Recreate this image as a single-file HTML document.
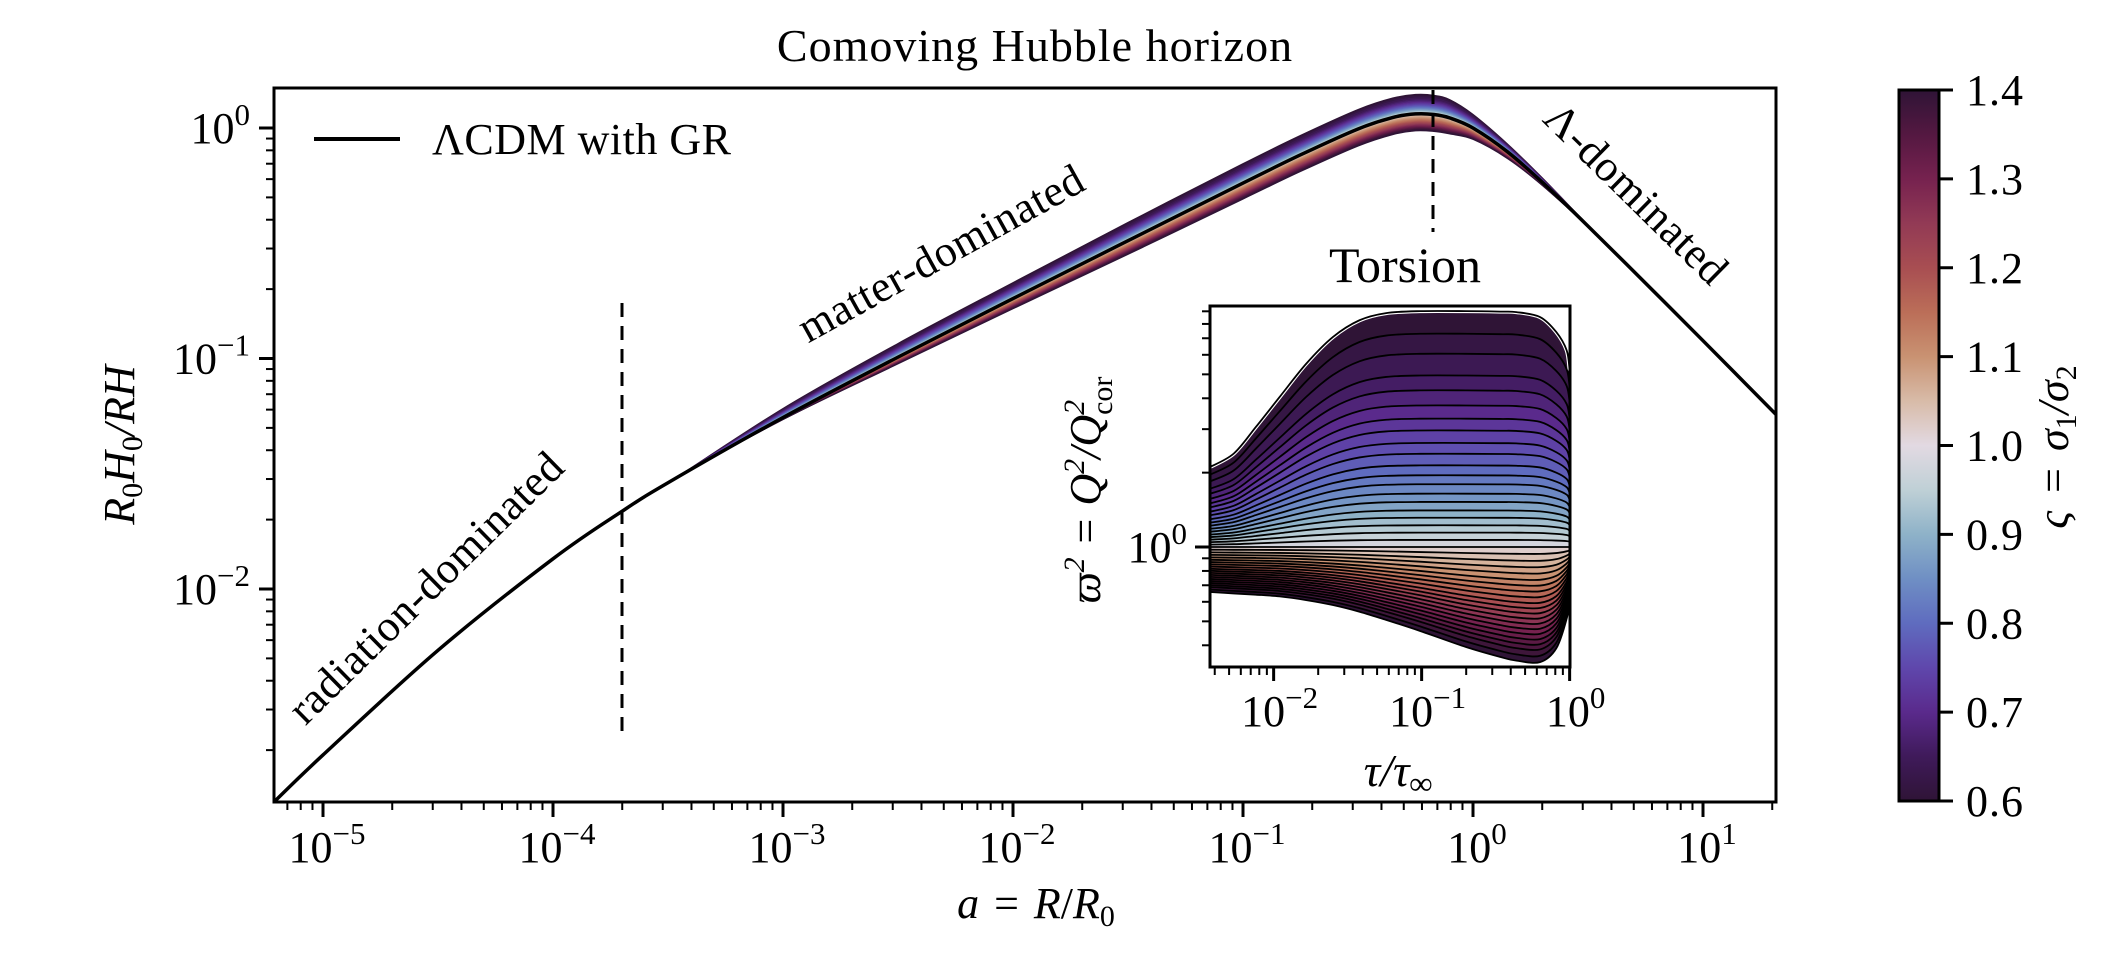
<!DOCTYPE html>
<html><head><meta charset="utf-8"><style>
html,body{margin:0;padding:0;background:#fff;}
svg{display:block;}
text{font-family:"Liberation Serif","DejaVu Serif",serif;fill:#000;}
</style></head><body>
<svg id="fig" width="2125" height="957" viewBox="0 0 2125 957" xmlns="http://www.w3.org/2000/svg">
<defs>
<clipPath id="mainClip"><rect x="274" y="88" width="1502" height="714"/></clipPath>
<clipPath id="insetClip"><rect x="1210" y="306" width="360" height="361"/></clipPath>
<linearGradient id="cbGrad" x1="0" y1="1" x2="0" y2="0"></linearGradient>
</defs>
<text x="1035" y="61" font-size="46" letter-spacing="1" text-anchor="middle">Comoving Hubble horizon</text>
<g id="mainBand" clip-path="url(#mainClip)"></g>
<g id="mainLine" clip-path="url(#mainClip)"></g>
<line x1="622" y1="303" x2="622" y2="735" stroke="#000" stroke-width="3" stroke-dasharray="14,9"/>
<line x1="1433" y1="90" x2="1433" y2="232" stroke="#000" stroke-width="3" stroke-dasharray="14,9"/>
<rect x="274" y="88" width="1502" height="714" fill="none" stroke="#000" stroke-width="3"/>
<g id="mainTicks"></g>
<g>
<line x1="314" y1="139" x2="400" y2="139" stroke="#000" stroke-width="4"/>
<text x="432" y="154" font-size="44" letter-spacing="0.5">ΛCDM with GR</text>
</g>
<text transform="translate(436,598) rotate(-44.5)" font-size="44" letter-spacing="0.5" text-anchor="middle">radiation-dominated</text>
<text transform="translate(948,266) rotate(-29)" font-size="44" letter-spacing="0.5" text-anchor="middle">matter-dominated</text>
<text transform="translate(1626,204) rotate(44.5)" font-size="44" letter-spacing="0.5" text-anchor="middle">Λ-dominated</text>
<text x="1405" y="282" font-size="50" text-anchor="middle">Torsion</text>
<rect x="1210" y="306" width="360" height="361" fill="#fff"/>
<g id="insetArea" clip-path="url(#insetClip)"></g>
<rect x="1210" y="306" width="360" height="361" fill="none" stroke="#000" stroke-width="3"/>
<g id="insetTicks"></g>
<text x="1398" y="786" font-size="46" font-style="italic" text-anchor="middle">τ/τ<tspan font-size="32" dy="8">∞</tspan></text>
<text transform="translate(1100,490) rotate(-90)" font-size="44" font-style="italic" text-anchor="middle">ϖ<tspan font-size="30" dy="-16">2</tspan><tspan dy="16"> = Q</tspan><tspan font-size="30" dy="-16">2</tspan><tspan dy="16">/Q</tspan><tspan font-size="30" dy="-16">2</tspan><tspan font-size="30" font-style="normal" dx="-15" dy="28">cor</tspan></text>
<text x="1036" y="918" font-size="44" text-anchor="middle" word-spacing="4"><tspan font-style="italic">a</tspan> = <tspan font-style="italic">R</tspan>/<tspan font-style="italic">R</tspan><tspan font-size="30" dy="8">0</tspan></text>
<text transform="translate(134,445) rotate(-90)" font-size="44" font-style="italic" text-anchor="middle">R<tspan font-size="30" font-style="normal" dy="8">0</tspan><tspan dy="-8">H</tspan><tspan font-size="30" font-style="normal" dy="8">0</tspan><tspan dy="-8">/RH</tspan></text>
<rect id="cbRect" x="1899" y="90" width="40" height="711" fill="url(#cbGrad)" stroke="#000" stroke-width="3"/>
<g id="cbTicks"></g>
<text transform="translate(2068,447) rotate(-90)" font-size="44" font-style="italic" text-anchor="middle" word-spacing="4">ς = σ<tspan font-size="30" font-style="normal" dy="8">1</tspan><tspan dy="-8">/σ</tspan><tspan font-size="30" font-style="normal" dy="8">2</tspan></text>
</svg>
<script>
// ---- main chart data (log10 a, log10 R0H0/RH) ----
const logA = [-5.213,-5.0,-4.5,-4.0,-3.7,-3.5,-3.0,-2.5,-2.0,-1.5,-1.0,-0.75,-0.5,-0.35,-0.25,-0.17,-0.1,0,0.15,0.3,0.5,0.75,1.0,1.317];
const logY = [-2.924,-2.720,-2.266,-1.869,-1.663,-1.539,-1.256,-0.994,-0.740,-0.489,-0.239,-0.1165,-0.0041,0.0454,0.0611,0.0585,0.0433,0,-0.1033,-0.234,-0.4255,-0.673,-0.9227,-1.2426];
const bandUp = [0,0,0,0,0,0,0.04,0.06,0.07,0.08,0.085,0.085,0.085,0.085,0.085,0.084,0.08,0.06,0.035,0.02,0.005,0,0,0];
const bandDown = [0,0,0,0,0,0,-0.01,-0.03,-0.045,-0.06,-0.07,-0.073,-0.075,-0.075,-0.074,-0.074,-0.07,-0.05,-0.03,-0.015,-0.004,0,0,0];
const sigmaUp = [0.60,0.62,0.64,0.66,0.68,0.70,0.72,0.74,0.76,0.78,0.80,0.82,0.84,0.86,0.88,0.90,0.92,0.94,0.96,0.98,1.00];
const fracUp = [1,0.904,0.819,0.727,0.664,0.600,0.544,0.494,0.441,0.395,0.346,0.304,0.266,0.226,0.191,0.155,0.124,0.092,0.061,0.030,0];
const sigmaDown = [1.02,1.04,1.06,1.08,1.10,1.12,1.14,1.16,1.18,1.20,1.22,1.24,1.26,1.28,1.30,1.32,1.34,1.36,1.38,1.40];
const fracDown = [0.06,0.12,0.175,0.23,0.285,0.335,0.385,0.435,0.485,0.53,0.575,0.62,0.665,0.71,0.755,0.80,0.845,0.89,0.945,1];
// ---- inset data (log10 tau, log10 varpi^2 envelopes) ----
const logTau = [-2.43,-2.27,-2.12,-1.96,-1.78,-1.6,-1.42,-1.24,-1.01,-0.7,-0.47,-0.36,-0.2,-0.09,-0.02,0];
const insetTop = [0.324,0.378,0.486,0.607,0.742,0.850,0.918,0.947,0.955,0.955,0.953,0.951,0.931,0.870,0.796,0.715];
const insetBottom = [-0.182,-0.188,-0.193,-0.200,-0.215,-0.235,-0.262,-0.295,-0.340,-0.405,-0.445,-0.460,-0.466,-0.410,-0.290,-0.216];
// ---- tick labels ----
const xMajors = [-5,-4,-3,-2,-1,0,1];
const yMajors = [0,-1,-2];
const insetXMajors = [-2,-1,0];
const cbTicks = [0.6,0.7,0.8,0.9,1.0,1.1,1.2,1.3,1.4];
const cmapS = [0.6,0.65,0.7,0.75,0.8,0.85,0.9,0.95,1.0,1.05,1.1,1.15,1.2,1.25,1.3,1.35,1.4];
const cmapC = ['#2f1436','#3f1a5a','#5a2a8c','#5f47ac','#5f6cbf','#6f8fc4','#8eb2c8','#bfd0d6','#e2d9e2','#d8bba8','#c99272','#bb6e58','#a84e52','#923a55','#76224f','#541841','#2f1436'];

const NS='http://www.w3.org/2000/svg';
const X = la => 323 + (la + 5) * 230;
const Y = ly => 128 - ly * 230.5;
const IX = lt => 1210 + (lt + 2.43) * 148;
const IY = lw => 547 - lw * 247;
const CY = s => 801 - (s - 0.6) / 0.8 * 711;

function hex(c){return [1,3,5].map(i=>parseInt(c.substr(i,2),16));}
function cmap(s){
  if(s<=cmapS[0])return cmapC[0];
  for(let i=0;i<cmapS.length-1;i++){
    if(s<=cmapS[i+1]){const t=(s-cmapS[i])/(cmapS[i+1]-cmapS[i]);const a=hex(cmapC[i]),b=hex(cmapC[i+1]);
      return 'rgb('+a.map((v,k)=>Math.round(v+(b[k]-v)*t)).join(',')+')';}
  }
  return cmapC[cmapC.length-1];
}
function mk(tag,attrs,parent){const e=document.createElementNS(NS,tag);for(const k in attrs)e.setAttribute(k,attrs[k]);parent.appendChild(e);return e;}
function smooth(pts){
  let d='M'+pts[0][0].toFixed(2)+','+pts[0][1].toFixed(2);
  for(let i=0;i<pts.length-1;i++){
    const p0=pts[Math.max(0,i-1)],p1=pts[i],p2=pts[i+1],p3=pts[Math.min(pts.length-1,i+2)];
    const c1=[p1[0]+(p2[0]-p0[0])/6,p1[1]+(p2[1]-p0[1])/6];
    const c2=[p2[0]-(p3[0]-p1[0])/6,p2[1]-(p3[1]-p1[1])/6];
    d+='C'+c1[0].toFixed(2)+','+c1[1].toFixed(2)+' '+c2[0].toFixed(2)+','+c2[1].toFixed(2)+' '+p2[0].toFixed(2)+','+p2[1].toFixed(2);
  }
  return d;
}
function revSmooth(pts){return smooth(pts.slice().reverse()).replace(/^M/,'L');}

const grad=document.getElementById('cbGrad');
cmapS.forEach((s,i)=>{mk('stop',{offset:((s-0.6)/0.8*100)+'%','stop-color':cmapC[i]},grad);});

const band=document.getElementById('mainBand');
function mainCurve(delta,f){return logA.map((la,i)=>[X(la),Y(logY[i]+delta[i]*f)]);}
for(let i=0;i<sigmaUp.length-1;i++){
  const a=mainCurve(bandUp,fracUp[i]),b=mainCurve(bandUp,fracUp[i+1]);
  const p=mk('path',{d:smooth(a)+revSmooth(b)+'Z',fill:cmap(sigmaUp[i]),stroke:cmap(sigmaUp[i]),'stroke-width':0.8},band);
  
  
}
let prevF=0;
for(let i=0;i<sigmaDown.length;i++){
  const a=mainCurve(bandDown,prevF),b=mainCurve(bandDown,fracDown[i]);
  const p=mk('path',{d:smooth(a)+revSmooth(b)+'Z',fill:cmap(sigmaDown[i]),stroke:cmap(sigmaDown[i]),'stroke-width':0.8},band);
  
  
  prevF=fracDown[i];
}
const lineG=document.getElementById('mainLine');
const lc=mk('path',{d:smooth(logA.map((la,i)=>[X(la),Y(logY[i])])),fill:'none',stroke:'#000','stroke-width':3.5},lineG);



const mt=document.getElementById('mainTicks');
function tickLabel(parent,x,y,exp,anchor,size,name){
  const t=mk('text',{x:x,y:y,'font-size':size,'text-anchor':anchor},parent);
  
  
  t.textContent='10';
  const s=document.createElementNS(NS,'tspan');s.setAttribute('font-size',Math.round(size*0.7));s.setAttribute('dy',-Math.round(size*0.42));
  s.textContent=(exp<0?'−':'')+Math.abs(exp);t.appendChild(s);
}
for(let d=-6;d<=1;d++){for(let m=1;m<10;m++){
  const la=d+Math.log10(m);const x=X(la);if(x<275||x>1775)continue;
  const tk=mk('line',{x1:x,y1:802,x2:x,y2:m===1?817:810,stroke:'#000','stroke-width':m===1?3:2},mt);
  
  
}}
xMajors.forEach(e=>tickLabel(mt,X(e)+4,862,e,'middle',44,'x-tick-label'));
for(let d=-3;d<=0;d++){for(let m=1;m<10;m++){
  const ly=d+Math.log10(m);const y=Y(ly);if(y<89||y>801)continue;
  const tk=mk('line',{x1:274,y1:y,x2:m===1?259:266,y2:y,stroke:'#000','stroke-width':m===1?3:2},mt);
  
  
}}
yMajors.forEach(e=>tickLabel(mt,250,Y(e)+15,e,'end',44,'y-tick-label'));

const ia=document.getElementById('insetArea');
function insetCurve(env,f){return logTau.map((lt,i)=>[IX(lt),IY(env[i]*f)]);}
for(let i=0;i<sigmaUp.length-1;i++){
  const a=insetCurve(insetTop,fracUp[i]),b=insetCurve(insetTop,fracUp[i+1]);
  const p=mk('path',{d:smooth(a)+revSmooth(b)+'Z',fill:cmap(sigmaUp[i]),stroke:cmap(sigmaUp[i]),'stroke-width':0.8},ia);
  
  
}
prevF=0;
for(let i=0;i<sigmaDown.length;i++){
  const a=insetCurve(insetBottom,prevF),b=insetCurve(insetBottom,fracDown[i]);
  const p=mk('path',{d:smooth(a)+revSmooth(b)+'Z',fill:cmap(sigmaDown[i]),stroke:cmap(sigmaDown[i]),'stroke-width':0.8},ia);
  
  
  prevF=fracDown[i];
}
const topOutline=mk('path',{d:smooth(insetCurve(insetTop,1.0)),fill:'none',stroke:'#fff','stroke-width':4},ia);


fracUp.forEach(f=>{
  const l=mk('path',{d:smooth(insetCurve(insetTop,f)),fill:'none',stroke:'#000','stroke-width':1.8},ia);
  
  
});
fracDown.forEach(f=>{
  const l=mk('path',{d:smooth(insetCurve(insetBottom,f)),fill:'none',stroke:'#000','stroke-width':1.8},ia);
  
  
});

const it=document.getElementById('insetTicks');
for(let d=-3;d<=0;d++){for(let m=1;m<10;m++){
  const lt=d+Math.log10(m);const x=IX(lt);if(x<1211||x>1571)continue;
  const tk=mk('line',{x1:x,y1:667,x2:x,y2:m===1?681:675,stroke:'#000','stroke-width':m===1?3:2},it);
  
  
}}
insetXMajors.forEach(e=>tickLabel(it,IX(e)+6,726,e,'middle',44,'inset-x-tick-label'));
for(let d=-1;d<=0;d++){for(let m=1;m<10;m++){
  const lw=d+Math.log10(m);const y=IY(lw);if(y<307||y>666)continue;
  const tk=mk('line',{x1:1210,y1:y,x2:m===1?1195:1202,y2:y,stroke:'#000','stroke-width':m===1?3:2},it);
  
  
}}
tickLabel(it,1187,IY(0)+15,0,'end',44,'inset-y-tick-label');

const ct=document.getElementById('cbTicks');
cbTicks.forEach(s=>{
  const y=CY(s);
  const tk=mk('line',{x1:1939,y1:y,x2:1953,y2:y,stroke:'#000','stroke-width':3},ct);
  
  
  const t=mk('text',{x:1966,y:y+15,'font-size':44,'letter-spacing':1},ct);
  
  
  t.textContent=s.toFixed(1);
});
</script>
</body></html>
